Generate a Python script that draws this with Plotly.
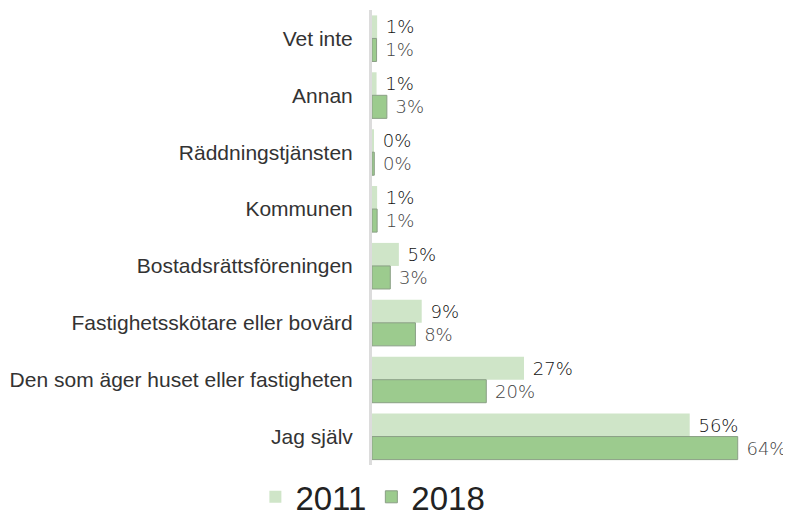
import plotly.graph_objects as go

categories = ["Vet inte", "Annan", "Räddningstjänsten", "Kommunen",
              "Bostadsrättsföreningen", "Fastighetsskötare eller bovärd",
              "Den som äger huset eller fastigheten", "Jag själv"]
values_2011 = [0.9, 0.8, 0.2, 0.9, 4.7, 8.7, 26.6, 55.6]
values_2018 = [0.8, 2.6, 0.4, 0.9, 3.2, 7.6, 20.0, 64.0]

fig = go.Figure()
fig.add_trace(go.Bar(
    y=categories, x=values_2011, name="2011", orientation="h",
    marker=dict(color="#cfe5c8", line=dict(width=0)),
    texttemplate=" %{x:.0f}%", textposition="outside", constraintext="none",
    textfont=dict(family="DejaVu Sans", size=18, color="#111111", weight=300),
    cliponaxis=False,
))
fig.add_trace(go.Bar(
    y=categories, x=values_2018, name="2018", orientation="h",
    marker=dict(color="#9ccb8e", line=dict(width=1, color="#8a9f85")),
    texttemplate=" %{x:.0f}%", textposition="outside", constraintext="none",
    textfont=dict(family="DejaVu Sans", size=18, color="#444444", weight=300),
    cliponaxis=False,
))

# page body has an 8px margin, so the figure is a bit smaller than the window
fig.update_layout(
    width=783, height=509,
    margin=dict(l=364, r=19, t=2, b=52, autoexpand=False),
    barmode="group", bargap=0.19, bargroupgap=0,
    plot_bgcolor="white", paper_bgcolor="white",
    font=dict(family="Liberation Sans", color="#333333"),
    legend=dict(orientation="h", xref="container", yref="paper",
                x=0.466, xanchor="center", y=-0.07, yanchor="middle",
                font=dict(size=33, color="#222222"), itemwidth=30),
)
fig.update_xaxes(range=[0, 70], showgrid=False, showticklabels=False, zeroline=False,
                 automargin=False)
fig.update_yaxes(autorange="reversed", showline=True, linecolor="#dcdcdc", linewidth=3,
                 ticks="", ticklabelstandoff=12, automargin=False,
                 tickfont=dict(size=21, color="#333333"))

fig.write_html("out.html")
